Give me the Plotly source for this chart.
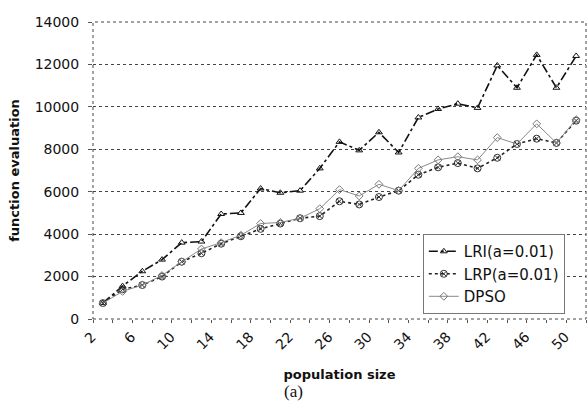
import plotly.graph_objects as go

# population sizes (x categories)
pop_size = [2, 4, 6, 8, 10, 12, 14, 16, 18, 20, 22, 24, 26,
            28, 30, 32, 34, 36, 38, 40, 42, 44, 46, 48, 50]

lri = [750, 1550, 2250, 2800, 3600, 3650, 4950, 5000, 6150, 5950, 6050, 7100, 8350,
       7950, 8800, 7850, 9500, 9900, 10150, 9950, 11950, 10900, 12450, 10900, 12400]
lrp = [750, 1400, 1600, 2000, 2700, 3100, 3550, 3900, 4250, 4500, 4750, 4850, 5550,
       5400, 5750, 6050, 6800, 7150, 7350, 7100, 7600, 8250, 8500, 8300, 9350]
dpso = [750, 1300, 1600, 2050, 2700, 3300, 3600, 3950, 4500, 4550, 4750, 5200, 6100,
        5800, 6350, 6050, 7100, 7500, 7650, 7500, 8550, 8250, 9200, 8300, 9400]

x_ticks = [2, 6, 10, 14, 18, 22, 26, 30, 34, 38, 42, 46, 50]
y_ticks = [0, 2000, 4000, 6000, 8000, 10000, 12000, 14000]

fig = go.Figure()

fig.add_trace(go.Scatter(
    x=pop_size, y=lri, mode='lines+markers', name='LRI(a=0.01)',
    line=dict(color='#111', width=1.6, dash='dashdot'),
    marker=dict(symbol='triangle-up-open', size=6, color='#111', line=dict(width=1))
))
fig.add_trace(go.Scatter(
    x=pop_size, y=lrp, mode='lines+markers', name='LRP(a=0.01)',
    line=dict(color='#222', width=1.6, dash='dot'),
    marker=dict(symbol='circle-x-open', size=7, color='#333', line=dict(width=1))
))
fig.add_trace(go.Scatter(
    x=pop_size, y=dpso, mode='lines+markers', name='DPSO',
    line=dict(color='#8a8a8a', width=1),
    marker=dict(symbol='diamond-open', size=6, color='#777', line=dict(width=1))
))

# dotted frame round the plot area
fig.add_shape(type='rect', xref='paper', yref='paper', x0=0, x1=1, y0=0, y1=1,
              line=dict(color='#444', width=1, dash='dot'))

fig.add_annotation(text='(a)', xref='paper', yref='paper', x=(293 - 93) / 493, y=-0.245,
                   showarrow=False, xanchor='center', yanchor='middle',
                   font=dict(family='Liberation Serif', size=17, color='#111'))

fig.update_layout(
    width=587, height=403,
    margin=dict(l=93, r=1, t=22, b=84),
    paper_bgcolor='white', plot_bgcolor='white',
    font=dict(family='DejaVu Sans', color='#111'),
    showlegend=True,
    legend=dict(
        x=0.669, y=0.286, xanchor='left', yanchor='top',
        bgcolor='white', bordercolor='#777', borderwidth=1,
        font=dict(family='DejaVu Sans', size=15, color='#111'),
        tracegroupgap=0, itemwidth=30
    ),
    xaxis=dict(
        range=[1, 51], tickvals=x_ticks, ticks='', tickangle=-45,
        tickfont=dict(size=14), showgrid=False, zeroline=False, showline=False,
        ticklabelstandoff=6, ticklabelshift=-11,
        minor=dict(tick0=1, dtick=2, ticks='outside', ticklen=3, tickcolor='#555', showgrid=False),
        title=dict(text='<b>population size</b>', font=dict(size=13), standoff=18)
    ),
    yaxis=dict(
        range=[0, 14000], tickvals=y_ticks, tickformat='d', ticks='outside', ticklen=4,
        tickcolor='#555', tickfont=dict(size=14), showgrid=True, gridcolor='#444',
        griddash='dot', gridwidth=1, zeroline=False, showline=False, ticklabelstandoff=6,
        title=dict(text='<b>function evaluation</b>', font=dict(size=13), standoff=12)
    )
)

# drop the page's default body margin so the figure sits at the window's corner
fig.write_html("out.html", config={'displayModeBar': False},
               post_script="document.body.style.margin='0';")
